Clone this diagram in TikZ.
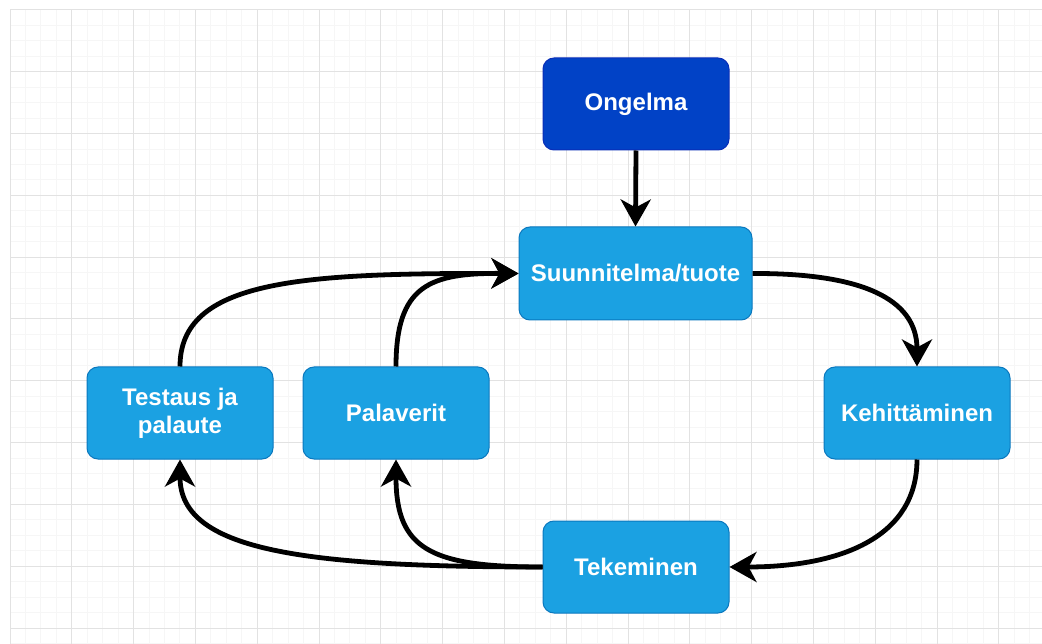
\documentclass[tikz,border=0pt]{standalone}
\usepackage{fontspec}
\setmainfont{Liberation Sans}
\usetikzlibrary{arrows.meta}
\definecolor{gridminor}{HTML}{F6F6F6}
\definecolor{gridmajor}{HTML}{E2E2E2}
\definecolor{boxfill}{HTML}{1BA1E2}
\definecolor{boxline}{HTML}{0A78BE}
\definecolor{darkfill}{HTML}{0142C6}
\definecolor{darkline}{HTML}{0A2EB8}
\tikzset{
  gminor/.style={draw=gridminor, line width=1pt},
  gmajor/.style={draw=gridmajor, line width=1pt},
  boxnode/.style={rectangle, rounded corners=11pt, fill=boxfill, draw=boxline, line width=1pt,
    minimum width=186pt, minimum height=92pt, inner sep=0pt, text=white, align=center,
    font=\fontsize{24}{28}\selectfont\bfseries},
  darknode/.style={boxnode, fill=darkfill, draw=darkline},
  conn/.style={draw=black, line width=4.8pt, -{Stealth[length=27pt,width=30pt,inset=8pt]}}
}
\begin{document}
\begin{tikzpicture}[x=1pt,y=-1pt]
\useasboundingbox[fill=white] (0,0) rectangle (1042,644);
% grid
\foreach \i in {0,...,67} { \draw[gminor] ({10+\i*15.45},10) -- ({10+\i*15.45},644); }
\foreach \i in {0,...,41} { \draw[gminor] (10,{10+\i*15.45}) -- (1042,{10+\i*15.45}); }
\foreach \i in {0,...,16} { \draw[gmajor] ({10+\i*61.8},10) -- ({10+\i*61.8},644); }
\foreach \i in {0,...,10} { \draw[gmajor] (10,{10+\i*61.8}) -- (1042,{10+\i*61.8}); }
% nodes
\node[darknode] (ong) at (636,104) {Ongelma};
\node[boxnode, minimum width=233pt, minimum height=93pt] (sun) at (635.5,273.5) {Suunnitelma/tuote};
\node[boxnode] (tes) at (180,413) {Testaus ja\\palaute};
\node[boxnode] (pal) at (396,413) {Palaverit};
\node[boxnode] (keh) at (917,413) {Kehittäminen};
\node[boxnode] (tek) at (636,567) {Tekeminen};
% connectors
\draw[conn] (ong.south) -- (sun.north);
\draw[conn] (sun.east) .. controls (860,273) and (917,298) .. (keh.north);
\draw[conn] (keh.south) .. controls (917,535) and (845,567) .. (tek.east);
\draw[conn] (tek.west) .. controls (300,567) and (180,550) .. (tes.south);
\draw[conn] (tek.west) .. controls (430,567) and (396,549) .. (pal.south);
\draw[conn] (tes.north) .. controls (180,280) and (300,273) .. (sun.west);
\draw[conn] (pal.north) .. controls (396,285) and (430,273) .. (sun.west);
\end{tikzpicture}
\end{document}
